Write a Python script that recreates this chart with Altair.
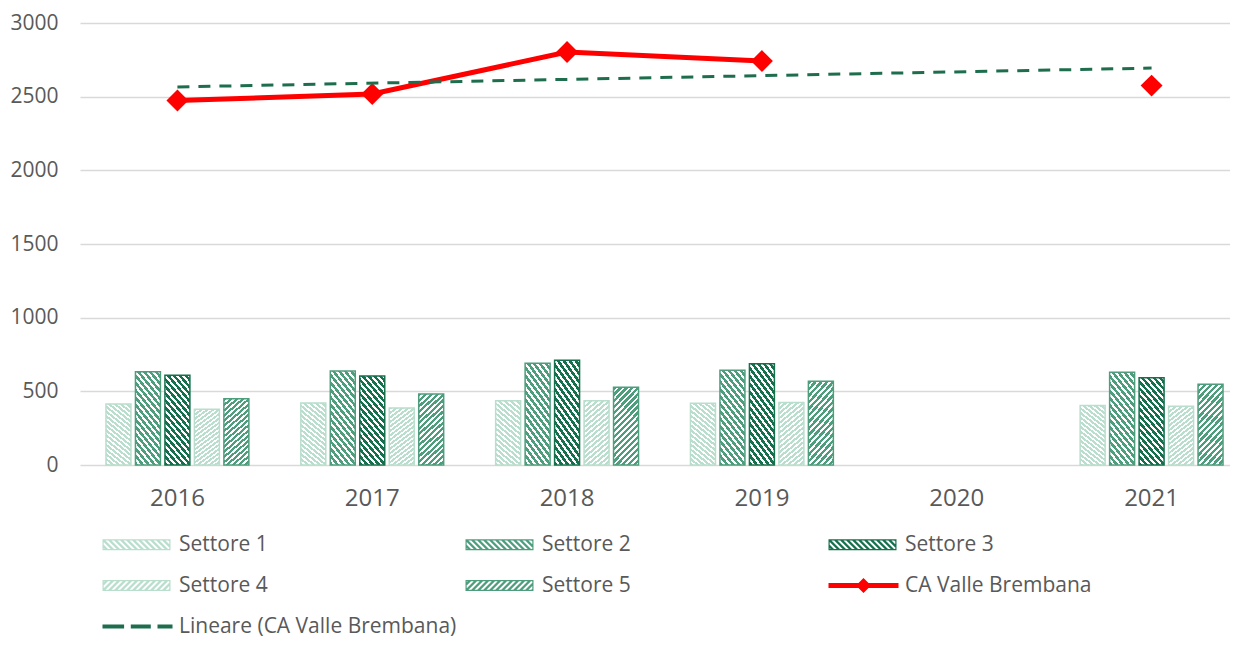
import altair as alt
import pandas as pd

# ---------------- data ----------------
anni = [2016, 2017, 2018, 2019, 2020, 2021]
settori = ["Settore 1", "Settore 2", "Settore 3", "Settore 4", "Settore 5"]
settore_1 = [414, 420, 436, 419, None, 403]
settore_2 = [633, 638, 690, 643, None, 629]
settore_3 = [609, 604, 711, 688, None, 593]
settore_4 = [378, 387, 436, 425, None, 398]
settore_5 = [450, 482, 527, 568, None, 548]
ca_valle_brembana = [2474, 2518, 2803, 2742, None, 2575]
serie_ca = "CA Valle Brembana"
serie_trend = "Lineare (CA Valle Brembana)"
y_ticks = [0, 500, 1000, 1500, 2000, 2500, 3000]

# ---------------- styles ----------------
FONT = "Open Sans"
TXT = "#595959"
PALE = "#b9decd"
MID = "#4e9e7e"
DARK = "#16704d"
RED = "#ff0000"
TREND = "#1e6e4e"
settore_colori = [PALE, MID, DARK, PALE, MID]
settore_dir = ["\\", "\\", "\\", "/", "/"]

valori = [settore_1, settore_2, settore_3, settore_4, settore_5]
rows = []
for s, vals in zip(settori, valori):
    for a, v in zip(anni, vals):
        if v is not None:
            rows.append({"anno": a, "settore": s, "valore": v})
bars_df = pd.DataFrame(rows)
ca_df = pd.DataFrame({"anno": anni, "valore": ca_valle_brembana})


def hatch_gradient(color, direction, n=17, frac=0.55, a=0.33):
    k = (a + 1) / (a * a + 1)
    if direction == "\\":
        x1, y1, x2, y2 = 0, 1, k * a, 1 - k
    else:
        x1, y1, x2, y2 = 0, 0, k * a, k
    stops = []
    for i in range(n):
        o0 = round(i / n, 4)
        o1 = round((i + frac) / n, 4)
        o2 = round((i + 1) / n, 4)
        stops += [
            {"color": color, "offset": o0},
            {"color": color, "offset": o1},
            {"color": "#ffffff", "offset": o1},
            {"color": "#ffffff", "offset": o2},
        ]
    return {"gradient": "linear", "x1": x1, "y1": y1, "x2": round(x2, 4),
            "y2": round(y2, 4), "stops": stops}


# --------- legend symbol paths (units: 10px, centre 10px from entry left) ---------
def clip(poly, xmin, xmax, ymin, ymax):
    def clip_edge(pts, inside, inter):
        out = []
        for i in range(len(pts)):
            cur, prev = pts[i], pts[i - 1]
            if inside(cur):
                if not inside(prev):
                    out.append(inter(prev, cur))
                out.append(cur)
            elif inside(prev):
                out.append(inter(prev, cur))
        return out

    def ix(xc):
        return lambda p, q: (xc, p[1] + (q[1] - p[1]) * (xc - p[0]) / (q[0] - p[0]))

    def iy(yc):
        return lambda p, q: (p[0] + (q[0] - p[0]) * (yc - p[1]) / (q[1] - p[1]), yc)

    pts = poly
    for inside, inter in [
        (lambda p: p[0] >= xmin, ix(xmin)),
        (lambda p: p[0] <= xmax, ix(xmax)),
        (lambda p: p[1] >= ymin, iy(ymin)),
        (lambda p: p[1] <= ymax, iy(ymax)),
    ]:
        if not pts:
            break
        pts = clip_edge(pts, inside, inter)
    return pts


def area(p):
    return sum(p[i - 1][0] * p[i][1] - p[i][0] * p[i - 1][1] for i in range(len(p))) / 2


def to_path(polys):
    parts = []
    for p in polys:
        if len(p) < 3 or abs(area(p)) < 1e-6:
            continue
        if area(p) < 0:
            p = p[::-1]
        coords = ["%.3f,%.3f" % ((x - 10) / 10, y / 10) for x, y in p]
        parts.append("M" + "L".join(coords) + "Z")
    return "".join(parts)


def rect(x0, y0, x1, y1):
    return [(x0, y0), (x1, y0), (x1, y1), (x0, y1)]


def hatch_symbol(direction, W=68, H=11, period=6, sw=3.2, fr=1.2):
    polys = [rect(0, -H / 2, W, -H / 2 + fr), rect(0, H / 2 - fr, W, H / 2),
             rect(0, -H / 2, fr, H / 2), rect(W - fr, -H / 2, W, H / 2)]
    for c in range(-20, W + 20, period):
        if direction == "\\":
            band = [(c - 50, -50), (c + sw - 50, -50), (c + sw + 50, 50), (c + 50, 50)]
        else:
            band = [(c + 50, -50), (c + sw + 50, -50), (c + sw - 50, 50), (c - 50, 50)]
        polys.append(clip(band, 0, W, -H / 2, H / 2))
    return to_path(polys)


line_symbol = to_path([rect(0, -2.5, 70, 2.5),
                       [(27.5, 0), (35, -7.5), (42.5, 0), (35, 7.5)]])
dash_symbol = to_path([rect(0, -2, 21.6, 2), rect(28.3, -2, 48.3, 2), rect(55, -2, 70, 2)])

serie_nomi = settori + [serie_ca, serie_trend]
serie_colori = settore_colori + [RED, TREND]
serie_forme = [hatch_symbol(d) for d in settore_dir] + [line_symbol, dash_symbol]

# ---------------- encodings ----------------
X = alt.X("anno:O",
          scale=alt.Scale(domain=anni, range=[-2, 1167], paddingInner=0.2436, paddingOuter=0.1218),
          axis=alt.Axis(title=None, labelAngle=0, labelFontSize=24, labelColor=TXT,
                        labelPadding=21, domain=False, ticks=False, grid=False))
Y = alt.Y("valore:Q",
          scale=alt.Scale(domain=[0, 3000], nice=False, zero=True),
          axis=alt.Axis(title=None, values=y_ticks, format="d", labelFontSize=21, labelColor=TXT,
                        labelPadding=24, domain=False, ticks=False, grid=True,
                        gridColor="#d9d9d9", gridWidth=1.5))
XO = alt.XOffset("settore:N", scale=alt.Scale(domain=settori, paddingInner=0.153, paddingOuter=0.0763))

layers = []
for s, col, d in zip(settori, settore_colori, settore_dir):
    layers.append(
        alt.Chart(bars_df)
        .transform_filter(alt.datum.settore == s)
        .mark_bar(fill=hatch_gradient(col, d), stroke=col, strokeWidth=1.5)
        .encode(x=X, xOffset=XO, y=Y)
    )

line = alt.Chart(ca_df).mark_line(color=RED, strokeWidth=5,
                                  invalid="break-paths-show-domains").encode(x=X, y=Y)
markers = alt.Chart(ca_df).transform_filter("isValid(datum.valore)").mark_point(
    shape="diamond", filled=True, size=480, color=RED, opacity=1).encode(x=X, y=Y)
trend = (alt.Chart(ca_df)
         .transform_filter("isValid(datum.valore)")
         .transform_regression("anno", "valore")
         .mark_line(color=TREND, strokeWidth=3, strokeDash=[12, 9])
         .encode(x=X, y=Y))

leg_props = dict(orient="none", legendX=20, legendY=511, direction="horizontal", columns=3,
                 gridAlign="all", columnPadding=8, rowPadding=19, symbolSize=400,
                 symbolStrokeWidth=0, symbolOpacity=1, labelFontSize=21, labelColor=TXT,
                 labelOffset=56, labelLimit=500, title=None, padding=0)
legend_layer = (alt.Chart(pd.DataFrame({"serie": serie_nomi}))
                .transform_filter("false")
                .mark_point(filled=True, opacity=1)
                .encode(color=alt.Color("serie:N", scale=alt.Scale(domain=serie_nomi, range=serie_colori),
                                        legend=alt.Legend(**leg_props)),
                        shape=alt.Shape("serie:N", scale=alt.Scale(domain=serie_nomi, range=serie_forme),
                                        legend=alt.Legend(**leg_props))))

chart = (alt.layer(*layers, line, markers, trend, legend_layer)
         .properties(width=1143, height=442,
                     autosize=alt.AutoSizeParams(type="none"),
                     padding={"left": 74, "top": 15, "right": 5, "bottom": 174})
         .configure_view(strokeWidth=0)
         .configure_axis(labelFont=FONT)
         .configure_legend(labelFont=FONT))

chart.save("out.html", embed_options={"renderer": "svg", "actions": False})
